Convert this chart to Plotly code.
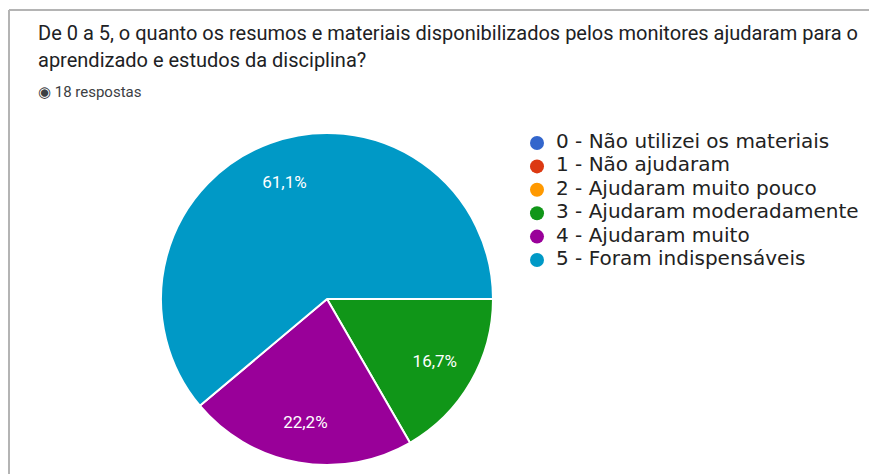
import plotly.graph_objects as go

W, H = 869, 474

categories = [
    "0 - Não utilizei os materiais",
    "1 - Não ajudaram",
    "2 - Ajudaram muito pouco",
    "3 - Ajudaram moderadamente",
    "4 - Ajudaram muito",
    "5 - Foram indispensáveis",
]
responses = [0, 0, 0, 3, 4, 11]
slice_labels = ["", "", "", "16,7%", "22,2%", "61,1%"]
colors = ["#3366cc", "#dc3912", "#ff9900", "#109618", "#990099", "#0099c6"]

title_lines = [
    "De 0 a 5, o quanto os resumos e materiais disponibilizados pelos monitores ajudaram para o",
    "aprendizado e estudos da disciplina?",
]
subtitle = "◉ 18 respostas"


def px(x):
    return x / W


def py(y):
    return 1 - y / H


cx, cy, r = 327, 299, 166
pie_domain = dict(x=[px(cx - r), px(cx + r)], y=[py(cy + r), py(cy - r)])

fig = go.Figure()
# filled slices
fig.add_trace(go.Pie(
    labels=categories,
    values=responses,
    textinfo="none",
    marker=dict(colors=colors, line=dict(color="white", width=2)),
    sort=False,
    direction="clockwise",
    rotation=90,
    showlegend=False,
    hoverinfo="label+percent",
    domain=pie_domain,
))
# transparent ring carrying the percentage labels (places them out toward the rim)
fig.add_trace(go.Pie(
    labels=categories,
    values=responses,
    text=slice_labels,
    textinfo="text",
    textposition="inside",
    insidetextorientation="horizontal",
    insidetextfont=dict(color="white", size=17, family="Roboto"),
    marker=dict(colors=["rgba(0,0,0,0)"] * len(colors), line=dict(width=0)),
    hole=0.5,
    sort=False,
    direction="clockwise",
    rotation=90,
    showlegend=False,
    hoverinfo="skip",
    domain=pie_domain,
))

# custom legend: circle markers + labels on a hidden axis
idx = list(range(len(categories)))
fig.add_trace(go.Scatter(
    x=[17] * len(categories), y=idx, mode="markers",
    marker=dict(color=colors, size=14, symbol="circle"),
    showlegend=False, hoverinfo="skip",
))
fig.add_trace(go.Scatter(
    x=[36] * len(categories), y=idx, mode="text",
    text=categories, textposition="middle right",
    textfont=dict(size=20, color="#222222", family="DejaVu Sans"),
    showlegend=False, hoverinfo="skip",
))

row0, step = 143, 23.4
annotations = [
    dict(text=title_lines[0], x=px(36), y=py(19), xanchor="left", yanchor="top",
         font=dict(size=20, color="#202124", family="Roboto")),
    dict(text=title_lines[1], x=px(36), y=py(46), xanchor="left", yanchor="top",
         font=dict(size=20, color="#202124", family="Roboto")),
    dict(text=subtitle, x=px(36), y=py(81), xanchor="left", yanchor="top",
         font=dict(size=15, color="#3c4043", family="Roboto")),
]
for a in annotations:
    a.update(xref="paper", yref="paper", showarrow=False, align="left")

shapes = [
    dict(type="line", xref="paper", yref="paper", x0=px(9), x1=1, y0=py(10), y1=py(10),
         line=dict(color="#b4b4b4", width=2)),
    dict(type="line", xref="paper", yref="paper", x0=px(9), x1=px(9), y0=py(10), y1=0,
         line=dict(color="#b4b4b4", width=2)),
]

fig.update_layout(
    width=W, height=H,
    margin=dict(l=0, r=0, t=0, b=0),
    paper_bgcolor="white", plot_bgcolor="rgba(0,0,0,0)",
    xaxis=dict(visible=False, domain=[px(520), 1], range=[0, W - 520], fixedrange=True),
    yaxis=dict(visible=False, domain=[py(row0 + step * 5.5), py(row0 - step * 0.5)],
               range=[5.5, -0.5], fixedrange=True),
    annotations=annotations, shapes=shapes,
    showlegend=False,
)

fig.write_html("out.html", config={"displayModeBar": False},
               post_script="document.body.style.margin='0';")
